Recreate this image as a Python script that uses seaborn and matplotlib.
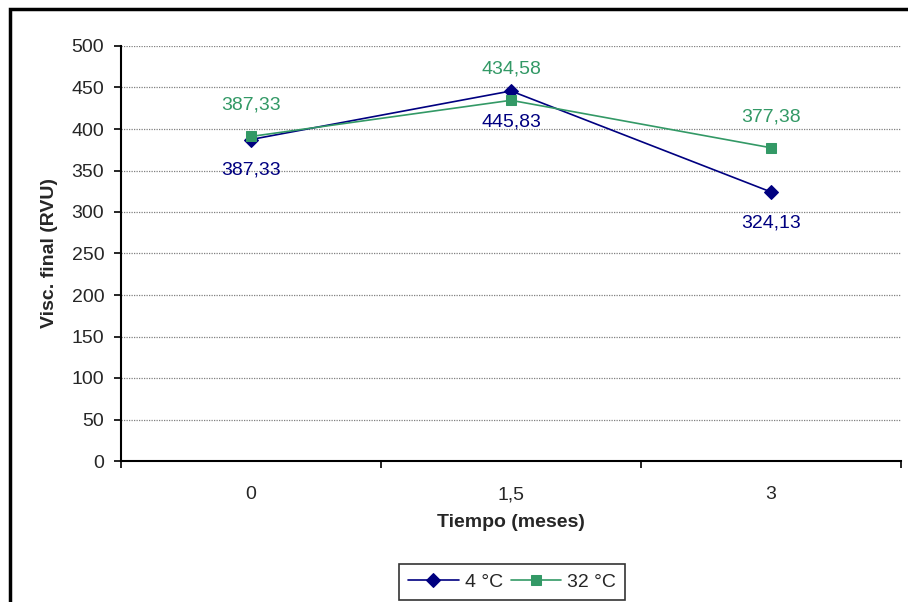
import matplotlib
matplotlib.use("Agg")
import matplotlib.pyplot as plt
import seaborn as sns
import pandas as pd
from matplotlib.patches import Rectangle

categories = ["0", "1,5", "3"]
temp_4 = [387.33, 445.83, 324.13]
temp_32 = [391.0, 434.58, 377.38]
labels_4 = ["387,33", "445,83", "324,13"]
labels_32 = ["387,33", "434,58", "377,38"]
yticks = [0, 50, 100, 150, 200, 250, 300, 350, 400, 450, 500]

sns.set_theme(style="white")
plt.rcParams['font.family'] = ['Liberation Sans', 'DejaVu Sans']

FS = 14

fig = plt.figure(figsize=(9.08, 6.02), dpi=100)
ax = fig.add_axes([121/908, 1-461/602, 780/908, 415/602])

pos = list(range(len(categories)))
c4 = "#000080"
c32 = "#339966"
df = pd.DataFrame({"pos": pos, "v4": temp_4, "v32": temp_32})
sns.lineplot(data=df, x="pos", y="v4", ax=ax, color=c4, marker="D", markersize=7,
             linewidth=1.2, markeredgecolor=c4, label="4 °C")
sns.lineplot(data=df, x="pos", y="v32", ax=ax, color=c32, marker="s", markersize=7,
             linewidth=1.2, markeredgecolor=c32, label="32 °C")

for p, v, t in zip(pos, temp_4, labels_4):
    ax.annotate(t, (p, v), xytext=(0, -22), textcoords="offset points",
                ha="center", va="center", color=c4, fontsize=FS)
for p, v, t in zip(pos, temp_32, labels_32):
    ax.annotate(t, (p, v), xytext=(0, 22.5), textcoords="offset points",
                ha="center", va="center", color=c32, fontsize=FS)

ax.set_xlim(-0.5, 2.5)
ax.set_ylim(0, 500)
ax.set_yticks(yticks)
ax.set_yticklabels([str(y) for y in yticks], fontsize=FS)
ax.set_xticks([-0.5, 0.5, 1.5, 2.5])
ax.set_xticklabels([])
ax.set_xticks(pos, minor=True)
ax.set_xticklabels(categories, minor=True, fontsize=FS)
ax.tick_params(axis="x", which="major", direction="out", length=5, width=1.2, color="black", bottom=True)
ax.tick_params(axis="x", which="minor", length=0, pad=18)
ax.tick_params(axis="y", direction="out", length=5, width=1.2, color="black", left=True, pad=7)

ax.grid(axis="y", which="major", color="#808080", linestyle=(0, (1, 1)), linewidth=0.9)
ax.grid(axis="x", visible=False)
ax.set_axisbelow(True)
for s in ["top", "right"]:
    ax.spines[s].set_visible(False)
for s in ["left", "bottom"]:
    ax.spines[s].set_color("black")
    ax.spines[s].set_linewidth(1.5)

ax.set_xlabel("Tiempo (meses)", fontsize=FS, fontweight="bold", labelpad=8)
ax.set_ylabel("Visc. final (RVU)", fontsize=FS, fontweight="bold", labelpad=10)

leg = ax.legend(loc="center", bbox_to_anchor=(512/908, 1-582/602), bbox_transform=fig.transFigure,
                ncol=2, frameon=True, fancybox=False, fontsize=FS, handlelength=2.6,
                columnspacing=0.4, handletextpad=0.3, borderpad=0.45)
leg.get_frame().set_edgecolor("black")
leg.get_frame().set_linewidth(1.2)

fig.add_artist(Rectangle((10/908, -0.1), 2, 1 - 9/602 + 0.1, transform=fig.transFigure,
                         fill=False, edgecolor="black", linewidth=2.5))

fig.savefig("out.png", dpi=100)
